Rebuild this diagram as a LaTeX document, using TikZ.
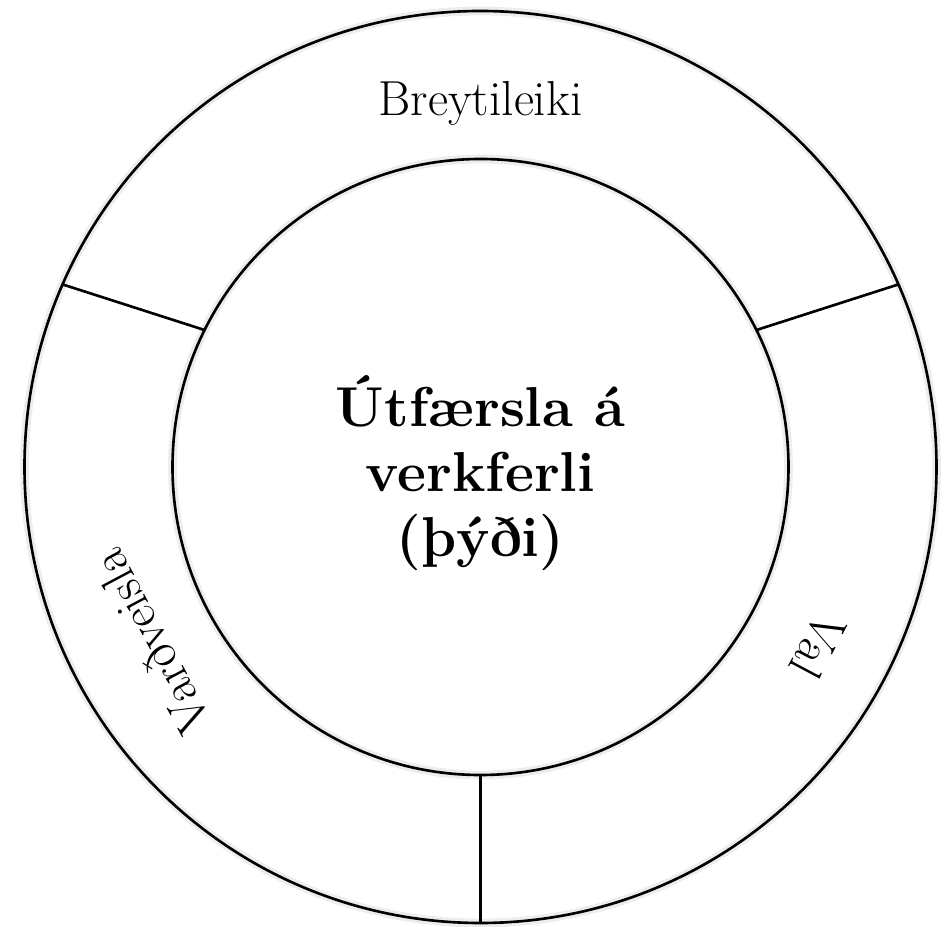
\documentclass[tikz,border=0pt]{standalone}
\usepackage{fontspec}
\usepackage{tikz}
\usetikzlibrary{positioning,calc}

\tikzset{
  ring/.style={line width=1.5pt},
  ringshadow/.style={line width=5pt, black!7, yshift=-3pt},
  seglabel/.style={font=\fontsize{28}{33}\selectfont, inner sep=0pt},
  hub/.style={font=\fontsize{32}{37}\selectfont\bfseries, align=center, inner sep=0pt}
}

\begin{document}
\begin{tikzpicture}[line join=round]
\useasboundingbox (-9.61,-9.2) rectangle (9.27,9.34);
\coordinate (O) at (0,0);
% ends of the three dividers
\coordinate (li) at (153.6:6.16);
\coordinate (lo) at (156.4:9.12);
\coordinate (ri) at (26.4:6.16);
\coordinate (ro) at (23.6:9.12);
\coordinate (bi) at (270:6.16);
\coordinate (bo) at (270:9.12);
\draw[ringshadow] (O) circle (9.12);
\draw[ringshadow] (O) circle (6.16);
\draw[ring] (O) circle (9.12);
\draw[ring] (O) circle (6.16);
\draw[ring] (li)--(lo);
\draw[ring] (ri)--(ro);
\draw[ring] (bi)--(bo);
\node[hub] (core) at (0,-0.12) {Útfærsla á\\verkferli\\(þýði)};
\node[seglabel] (brey) at (90:7.28) {Breytileiki};
\node[seglabel, rotate=-118] (val) at (-28:7.64) {Val};
\node[seglabel, rotate=118] (vard) at (208:7.46) {Varðveisla};
\end{tikzpicture}
\end{document}
